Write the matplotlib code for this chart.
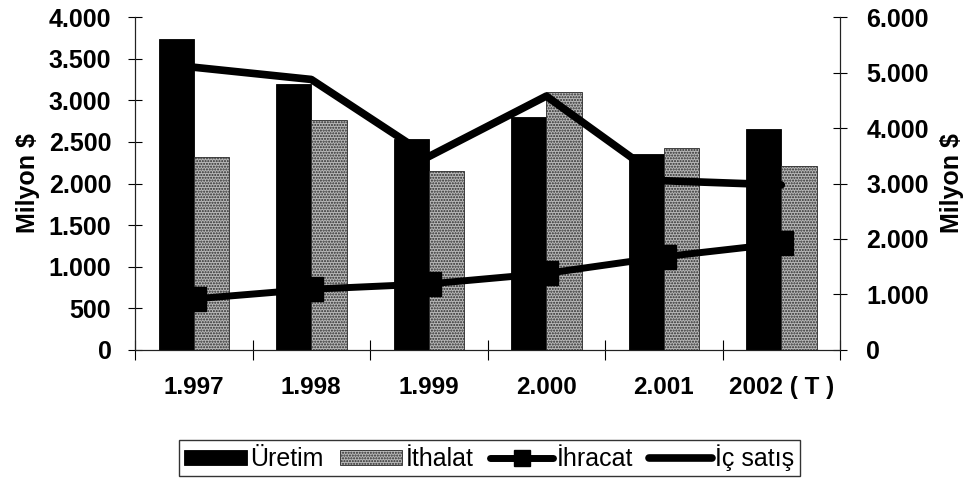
"""Production / import / export / domestic sales, 1997-2002 (Milyon $)."""
import numpy as np
import matplotlib; matplotlib.use('Agg')
import matplotlib.pyplot as plt
from matplotlib.ticker import FuncFormatter, FixedLocator

plt.rcParams['font.family'] = ['Liberation Sans', 'DejaVu Sans']
plt.rcParams['hatch.linewidth'] = 1.0

years = ['1.997', '1.998', '1.999', '2.000', '2.001', '2002 ( T )']
uretim = [3730, 3190, 2540, 2800, 2360, 2660]      # left axis
ithalat = [2320, 2760, 2150, 3095, 2430, 2205]     # left axis
ihracat = [920, 1095, 1190, 1380, 1680, 1920]      # right axis
ic_satis = [5095, 4875, 3485, 4575, 3050, 2975]    # right axis

dot_fmt = FuncFormatter(lambda v, _: f'{int(v):,}'.replace(',', '.'))

fig = plt.figure(figsize=(9.65, 4.78), dpi=100)
ax = fig.add_axes([0.1399, 0.2678, 0.8705 - 0.1399, 0.9644 - 0.2678])
ax2 = ax.twinx()

x = np.arange(len(years))
w = 0.3
b1 = ax.bar(x - w / 2, uretim, w, color='black', edgecolor='black', lw=0.6, label='Üretim')
b2 = ax.bar(x + w / 2, ithalat, w, color='#b8b8b8', edgecolor='#2a2a2a', lw=0.6,
            hatch='......', label='İthalat')

l1, = ax2.plot(x, ihracat, color='black', lw=5, marker='s', ms=17,
               solid_capstyle='round', label='İhracat')
l2, = ax2.plot(x, ic_satis, color='black', lw=5.5, solid_capstyle='round', label='İç satış')

ax.set_xlim(-0.5, len(years) - 0.5)
ax.set_ylim(0, 4000)
ax2.set_ylim(0, 6000)
ax.set_yticks(np.arange(0, 4001, 500))
ax2.set_yticks(np.arange(0, 6001, 1000))
ax.yaxis.set_major_formatter(dot_fmt)
ax2.yaxis.set_major_formatter(dot_fmt)

ax.set_xticks(x)
ax.set_xticklabels(years)
ax.xaxis.set_minor_locator(FixedLocator(np.arange(-0.5, len(years), 1.0)))
ax.tick_params(axis='x', which='major', length=0, pad=19, labelsize=17.5)
ax.tick_params(axis='x', which='minor', direction='inout', length=14, width=0.8)
for lab in ax.get_xticklabels():
    lab.set_fontweight('bold')

ax.tick_params(axis='y', direction='inout', length=10, width=0.8, labelsize=18, pad=12)
ax2.tick_params(axis='y', direction='inout', length=10, width=0.8, labelsize=18, pad=14)
for lab in ax.get_yticklabels() + ax2.get_yticklabels():
    lab.set_fontweight('bold')

for a in (ax, ax2):
    a.spines['top'].set_visible(False)
    for s in ('left', 'right', 'bottom'):
        a.spines[s].set_linewidth(0.8)
        a.spines[s].set_color('#222222')

ax.set_ylabel('Milyon $', fontsize=18, fontweight='bold', labelpad=6)
ax2.set_ylabel('Milyon $', fontsize=18, fontweight='bold', rotation=90, labelpad=8)

leg = fig.legend(handles=[b1, b2, l1, l2], loc='center', bbox_to_anchor=(0.507, 0.042),
                 ncol=4, fontsize=18, frameon=True, fancybox=False, edgecolor='black',
                 handlelength=2.5, handleheight=0.6, handletextpad=0.15, columnspacing=0.65,
                 borderpad=0.2, markerscale=0.7)
leg.get_frame().set_linewidth(1.0)

fig.savefig('out.png', dpi=100)
